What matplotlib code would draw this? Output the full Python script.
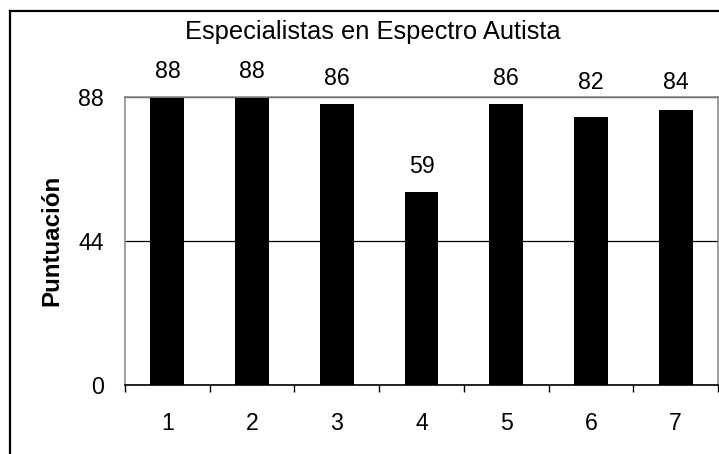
import matplotlib
matplotlib.use('Agg')
from matplotlib import pyplot as plt
from matplotlib.lines import Line2D

categories = ['1', '2', '3', '4', '5', '6', '7']
scores = [88, 88, 86, 59, 86, 82, 84]
yticks = [0, 44, 88]
title = 'Especialistas en Espectro Autista'
ylabel = 'Puntuación'

plt.rcParams['font.family'] = ['Liberation Sans', 'DejaVu Sans']

fig = plt.figure(figsize=(7.19, 4.54), dpi=100)
ax = fig.add_axes([0.1739, 0.152, 0.8247, 0.634])

x = list(range(1, len(categories) + 1))
ax.bar(x, scores, width=0.4, color='black', zorder=3)

ax.set_xlim(0.5, len(categories) + 0.5)
ax.set_ylim(0, 88)

# value labels: ~19px above the bar, but kept clear of the frame line
top_px = ax.transData.transform((0, 88))[1]
for xi, v in zip(x, scores):
    bar_px = ax.transData.transform((xi, v))[1]
    base = bar_px + 19
    if top_px - 5 < base < top_px + 14:
        base = max(base, top_px + 8)
    off = (base - bar_px) * 72 / fig.dpi
    ax.annotate(str(v), (xi, v), xytext=(0, off), textcoords='offset points',
                ha='center', va='baseline', fontsize=16.7, annotation_clip=False,
                zorder=5)

ax.set_yticks(yticks)
ax.set_yticklabels([str(t) for t in yticks])
ax.set_xticks(x)
ax.set_xticklabels(categories)
ax.set_xticks([i + 0.5 for i in range(len(categories) + 1)], minor=True)
ax.tick_params(axis='x', which='major', length=0, pad=19.5, labelsize=16.7)
ax.tick_params(axis='x', which='minor', length=5, width=1, color='black', direction='out')
ax.tick_params(axis='y', length=0, pad=15, labelsize=16.7)

ax.grid(axis='y', color='black', linewidth=0.9, zorder=1)
ax.set_axisbelow(True)
for s in ['left', 'top', 'right']:
    ax.spines[s].set_color('#8c8c8c')
    ax.spines[s].set_linewidth(1.2)
    ax.spines[s].set_zorder(4)
ax.spines['bottom'].set_color('black')
ax.spines['bottom'].set_linewidth(1.2)
ax.spines['bottom'].set_zorder(4)

fig.text(373 / 719, 1 - 39.3 / 454, title, ha='center', va='baseline', fontsize=18.4)
fig.text(52 / 719, 0.47, ylabel, rotation=90, ha='center', va='center',
         fontsize=17.4, fontweight='bold')

# outer frame (only left and top visible)
fig.add_artist(Line2D([10 / 719, 10 / 719], [0, 1 - 10.5 / 454], color='black', lw=1.6,
                      transform=fig.transFigure))
fig.add_artist(Line2D([10 / 719, 1], [1 - 10.5 / 454, 1 - 10.5 / 454], color='black', lw=1.6,
                      transform=fig.transFigure))

fig.savefig('out.png', dpi=100)
